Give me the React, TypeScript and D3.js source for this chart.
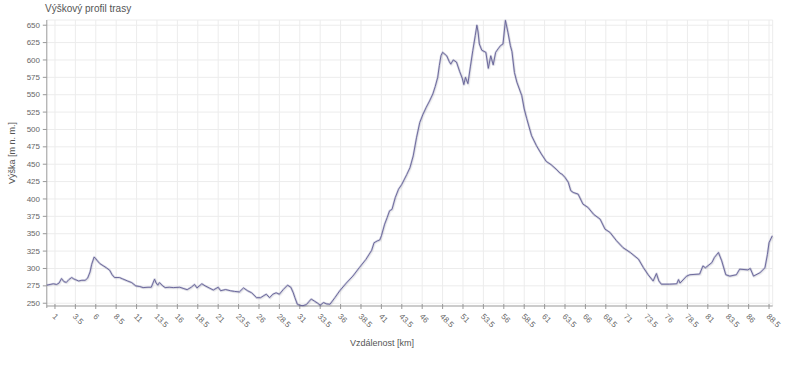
import React from "react";
import * as d3 from "d3";

const distanceKm: number[] = [
  0.0, 0.4, 0.8, 1.2, 1.5, 1.8, 2.1, 2.4, 2.7, 3.05, 3.3, 3.5, 3.9, 4.3, 4.7, 5.0, 5.3, 5.5, 5.8, 6.0,
  6.2, 6.5, 6.9, 7.3, 7.7, 8.0, 8.3, 8.9, 9.3, 9.9, 10.4, 10.9, 11.4, 11.8, 12.4, 12.8, 13.2, 13.4, 13.6, 13.8,
  14.2, 14.5, 15.0, 15.5, 16.3, 16.8, 17.2, 17.7, 18.1, 18.4, 19.0, 19.4, 19.9, 20.4, 21.0, 21.3, 21.9, 22.5, 23.0, 23.6,
  24.1, 24.6, 25.1, 25.7, 26.2, 26.6, 26.9, 27.3, 27.7, 28.1, 28.5, 29.0, 29.5, 29.9, 30.2, 30.4, 30.7, 31.0, 31.4, 31.8,
  32.1, 32.4, 32.8, 33.2, 33.5, 33.9, 34.3, 34.7, 35.3, 35.9, 36.7, 37.5, 38.3, 39.1, 39.8, 40.1, 40.5, 40.8, 41.0, 41.4,
  41.7, 42.0, 42.3, 42.7, 43.1, 43.5, 44.1, 44.5, 44.9, 45.3, 45.7, 46.1, 46.5, 46.9, 47.3, 47.6, 47.9, 48.1, 48.3, 48.5,
  48.8, 49.0, 49.3, 49.5, 49.8, 50.2, 50.6, 50.9, 51.1, 51.3, 51.6, 51.9, 52.2, 52.5, 52.7, 52.85, 53.0, 53.3, 53.8, 54.1,
  54.4, 54.7, 55.0, 55.3, 55.6, 55.9, 56.2, 56.5, 56.8, 57.0, 57.3, 57.6, 58.2, 58.5, 58.8, 59.4, 60.0, 60.6, 61.2, 61.8,
  62.4, 62.9, 63.1, 63.5, 63.9, 64.2, 64.5, 65.1, 65.7, 66.3, 67.0, 67.8, 68.4, 69.0, 69.8, 70.6, 71.5, 72.5, 73.1, 73.7,
  74.3, 74.7, 75.0, 75.3, 76.3, 77.2, 77.4, 77.6, 78.4, 78.8, 80.0, 80.4, 80.7, 81.5, 81.8, 82.3, 82.7, 83.2, 83.7, 84.5,
  84.9, 85.9, 86.2, 86.6, 87.4, 88.0, 88.3, 88.5, 88.9,
];

const elevationM: number[] = [
  276, 277, 278, 277, 279, 285.5, 281, 280, 284, 287, 285, 284, 282, 283, 283, 286, 295, 306, 316.5, 314,
  311, 307, 304, 301, 297.5, 291, 287, 287, 285, 282, 279.7, 275, 274, 272.5, 273, 273, 284.6, 279, 276, 279.7,
  275, 272.5, 273, 272.5, 273, 271, 269.5, 273, 277, 272, 278, 275, 272, 269, 273, 268, 269.7, 268, 267, 266.3,
  272, 268, 265, 258, 258, 261, 263, 258, 263, 265, 263, 270, 276, 273, 265, 258, 248.5, 247, 246.5, 248,
  252, 256, 253, 250, 247, 251, 249, 248.5, 258, 268, 279, 289, 301.3, 313, 326, 337, 339.7, 341, 347, 363.8,
  373, 383, 385, 402, 414, 421, 435, 445, 462, 488, 510, 522, 532, 541, 551, 562, 575, 592, 606, 611,
  608, 606, 598, 594, 600, 597, 583, 574, 564.6, 575, 566, 590, 613.5, 635, 650, 640, 623, 614, 611, 588,
  606, 593, 611, 616, 620.7, 623, 657, 640, 620.7, 612, 582, 568, 548.7, 529.5, 516, 491, 476.6, 464.7, 454, 449.3,
  443, 437, 436, 431, 424, 412, 409.4, 407, 392.6, 388, 378, 371, 356.6, 352, 340, 330, 323, 313.4, 301.3, 290.8,
  282, 292.7, 282, 277.4, 277.4, 278, 284, 279, 289, 291, 292, 303.7, 301, 308.5, 315.7, 323, 311, 291, 289, 291,
  299, 298, 300, 289, 294, 301, 320, 337, 347,
];

const xTickValues: number[] = d3.range(0, 36).map((k) => 1 + 2.5 * k);
const yTickValues: number[] = d3.range(250, 651, 25);

const titleText = "Výškový profil trasy";
const xAxisTitle = "Vzdálenost [km]";
const yAxisTitle = "Výška [m n. m.]";

export default function App() {
  const W = 800;
  const H = 367;
  const left = 46.8;
  const right = 772.7;
  const top = 20;
  const bottom = 306;

  const x = d3.scaleLinear().domain([0, 88.95]).range([left, right]);
  const y = d3.scaleLinear().domain([246, 657.5]).range([bottom, top]);

  const data = distanceKm.map((d, i) => [d, elevationM[i]] as [number, number]);
  const line = d3
    .line<[number, number]>()
    .x((d) => x(d[0]))
    .y((d) => y(d[1]));
  const path = line(data) || "";

  const font = "'Liberation Sans', Arial, sans-serif";
  const gridColor = "#ececec";

  return (
    <svg
      width={W}
      height={H}
      style={{ position: "absolute", left: 0, top: 0, background: "#fff" }}
      fontFamily={font}
    >
      <rect x={0} y={0} width={W} height={H} fill="#fff" />
      <text x={45} y={11.5} fontSize={10} fill="#555">
        {titleText}
      </text>

      {/* grid */}
      <line x1={left} x2={right} y1={top} y2={top} stroke={gridColor} />
      <line x1={right} x2={right} y1={top} y2={bottom} stroke={gridColor} />
      {yTickValues.map((v) => (
        <line key={"gy" + v} x1={left} x2={right} y1={y(v)} y2={y(v)} stroke={gridColor} />
      ))}
      {xTickValues.map((v) => (
        <line key={"gx" + v} x1={x(v)} x2={x(v)} y1={top} y2={bottom} stroke={gridColor} />
      ))}

      {/* axes */}
      <line x1={left} x2={left} y1={top} y2={bottom + 2} stroke="#999" />
      <line x1={left} x2={right} y1={bottom} y2={bottom} stroke="#999" />
      {yTickValues.map((v) => (
        <g key={"ty" + v}>
          <line x1={left - 4} x2={left} y1={y(v)} y2={y(v)} stroke="#999" />
          <text x={40} y={y(v)} dy="0.33em" textAnchor="end" fontSize={8} fill="#666">
            {v}
          </text>
        </g>
      ))}
      {xTickValues.map((v) => (
        <g key={"tx" + v}>
          <line x1={x(v)} x2={x(v)} y1={bottom - 2} y2={bottom + 3} stroke="#999" />
          <text
            transform={`translate(${x(v) - 1},${bottom + 9}) rotate(45)`}
            dy="0.35em"
            textAnchor="start"
            fontSize={8}
            fill="#666"
          >
            {String(v)}
          </text>
        </g>
      ))}

      {/* line */}
      <path d={path} fill="none" stroke="rgba(0,0,0,0.05)" strokeWidth={2} transform="translate(1,1)" />
      <path d={path} fill="none" stroke="rgba(120,118,170,0.3)" strokeWidth={2.2} strokeLinejoin="round" />
      <path d={path} fill="none" stroke="#625f94" strokeWidth={0.9} strokeLinejoin="round" />

      <text x={382} y={346} textAnchor="middle" fontSize={9} fill="#555">
        {xAxisTitle}
      </text>
      <text
        transform={`translate(15,153) rotate(-90)`}
        textAnchor="middle"
        fontSize={9}
        fill="#555"
      >
        {yAxisTitle}
      </text>
    </svg>
  );
}
